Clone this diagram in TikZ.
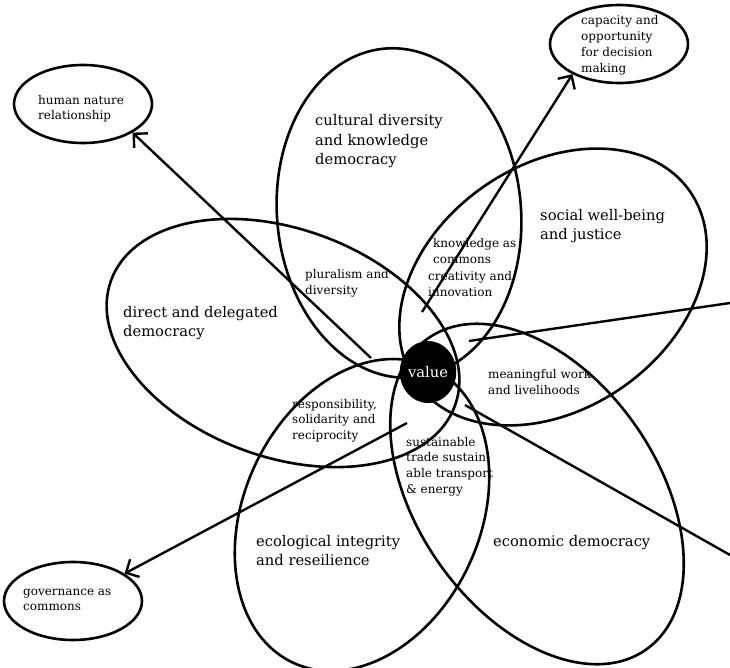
\documentclass[tikz,border=0pt]{standalone}
\usepackage{fontspec}
\setmainfont{DejaVu Serif}
\usetikzlibrary{shapes.geometric,arrows.meta}
\begin{document}
\begin{tikzpicture}[x=1pt,y=-1pt,
  petal/.style={ellipse,draw,line width=2.6pt,inner sep=0pt},
  outerbox/.style={ellipse,draw,line width=2.6pt,inner sep=0pt,minimum width=138pt,minimum height=78pt},
  big/.style={inner sep=0pt,align=left,anchor=base west,font=\fontsize{14.7}{19.5}\selectfont},
  small/.style={inner sep=0pt,align=left,anchor=base west,font=\fontsize{12}{15.8}\selectfont},
  conn/.style={line width=2.4pt,-{Straight Barb[length=10pt,width=20pt]}},
  rayline/.style={line width=2.4pt}]
\useasboundingbox (0,0) rectangle (730,668);

% petals
\node[petal,minimum width=244pt,minimum height=330pt,rotate=5] (cult) at (399,213) {};
\node[petal,minimum width=334pt,minimum height=244pt,rotate=35] (soc) at (553,287) {};
\node[petal,minimum width=380pt,minimum height=240pt,rotate=-55] (econ) at (537,494) {};
\node[petal,minimum width=326pt,minimum height=236pt,rotate=65] (eco) at (362,515) {};
\node[petal,minimum width=366pt,minimum height=228pt,rotate=-20] (dir) at (283,343) {};

% outer ellipses
\node[outerbox] (human) at (83,104) {};
\node[outerbox] (cap) at (619,44) {};
\node[outerbox] (gov) at (73,601) {};

% arrows
\coordinate (th) at (371,358);
\coordinate (tc) at (422,312);
\coordinate (tg) at (407,423);
\coordinate (tr1) at (469,341);
\coordinate (er1) at (730,303);
\coordinate (tr2) at (465,405);
\coordinate (er2) at (730,555);
\draw[conn] (th) -- (human.-30);
\draw[conn] (tc) -- (cap.-147);
\draw[conn] (tg) -- (gov.28);
\draw[rayline] (tr1) -- (er1);
\draw[rayline] (tr2) -- (er2);

% value
\node[ellipse,fill=black,inner sep=0pt,minimum width=50pt,minimum height=62pt,text=white,font=\fontsize{14.7}{19.5}\selectfont] (val) at (428,372) {value};

% labels (anchor = baseline of last line)
\node[big] (lcult) at (315,165) {cultural diversity\\and knowledge\\democracy};
\node[big] (lsoc) at (540,240) {social well-being\\and justice};
\node[big] (ldir) at (123,336.5) {direct and delegated\\democracy};
\node[big] (leco) at (256,565.5) {ecological integrity\\and reseilience};
\node[big] (lecon) at (493,546) {economic democracy};
\node[small] (lplur) at (305,294) {pluralism and\\diversity};
\node[small] (lknow) at (433,263) {knowledge as\\commons};
\node[small] (lcrea) at (428,296.5) {creativity and\\innovation};
\node[small] (lmean) at (488,394) {meaningful work\\and livelihoods};
\node[small] (lresp) at (292,439.6) {responsibility,\\solidarity and\\reciprocity};
\node[small] (lsust) at (406,493.4) {sustainable\\trade sustain-\\able transport\\\& energy};
\node[small] (lhum) at (38,120) {human nature\\relationship};
\node[small] (lcap) at (581,72.4) {capacity and\\opportunity\\for decision\\making};
\node[small] (lgov) at (23,610.8) {governance as\\commons};
\end{tikzpicture}
\end{document}
